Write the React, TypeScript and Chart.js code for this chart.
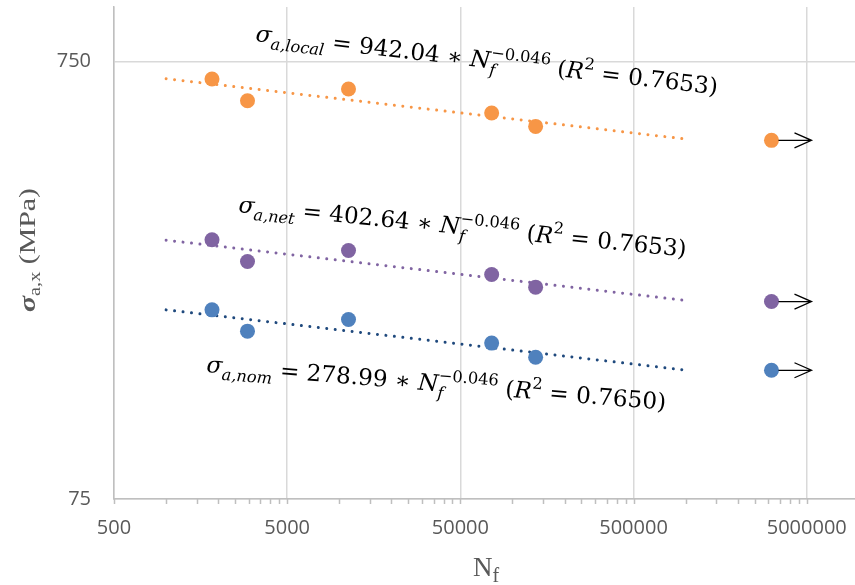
import React, { useEffect, useRef } from 'react';
import { Chart, registerables } from 'chart.js';
Chart.register(...registerables);

// ---------- data ----------
const cycles = [1840, 2950, 11300, 75800, 136000, 3130000];
const localStress = [684.6, 610.6, 649.5, 572.5, 533.3, 495.5];
const netStress = [293.6, 261.9, 277.5, 244.5, 228.8, 212.1];
const nomStress = [203.0, 181.5, 192.9, 170.4, 158.2, 147.7];
const runoutIndex = 5;

const trendCycles = [1000, 1000000];
const localTrend = [685.6, 499.0];
const netTrend = [293.0, 213.3];
const nomTrend = [203.0, 147.8];

const xTickValues = [500, 5000, 50000, 500000, 5000000];
const yTickValues = [75, 750];
const minorMultipliers = [2, 3, 4, 5, 6, 7, 8, 9];
const xRange = [500, 9.5e6];
const yRange = [75, 1000];

const seriesNames = ['local', 'net', 'nom'];
const coefficients = ['942.04', '402.64', '278.99'];
const exponents = ['−0.046', '−0.046', '−0.046'];
const rSquared = ['0.7653', '0.7653', '0.7650'];

// ---------- styles ----------
const pointColors = ['#F79646', '#8064A2', '#4F81BD'];
const trendColors = ['#F79646', '#8064A2', '#1F497D'];
const stressSeries = [localStress, netStress, nomStress];
const trendSeries = [localTrend, netTrend, nomTrend];
const eqPlacement = [
  { x: 255, y: 41, angle: 6.6, width: 465 },
  { x: 238, y: 212, angle: 5.7, width: 450 },
  { x: 206, y: 372, angle: 4.7, width: 461 },
];

type Seg = { t: string; it?: boolean; bold?: boolean; rel?: number; dy?: number; overlay?: boolean; family?: string };

function layoutRich(ctx: CanvasRenderingContext2D, segs: Seg[], size: number, family: string) {
  const items: { s: Seg; font: string; x: number; dy: number }[] = [];
  let x = 0;
  let carry = 0;
  for (const s of segs) {
    const fs = size * (s.rel ?? 1);
    const font = `${s.it ? 'italic ' : ''}${s.bold ? 'bold ' : ''}${fs}px "${s.family ?? family}"`;
    ctx.font = font;
    const w = ctx.measureText(s.t).width;
    items.push({ s, font, x, dy: (s.dy ?? 0) * size });
    if (s.overlay) {
      carry = w;
    } else {
      x += Math.max(w, carry);
      carry = 0;
    }
  }
  return { items, width: x };
}

function drawRich(
  ctx: CanvasRenderingContext2D,
  segs: Seg[],
  size: number,
  family: string,
  ax: number,
  ay: number,
  angleDeg: number,
  targetW: number | null,
  color: string
) {
  ctx.save();
  const L = layoutRich(ctx, segs, size, family);
  ctx.translate(ax, ay);
  ctx.rotate((angleDeg * Math.PI) / 180);
  const k = targetW ? targetW / L.width : 1;
  ctx.scale(k, 1);
  ctx.fillStyle = color;
  ctx.textBaseline = 'alphabetic';
  ctx.textAlign = 'left';
  for (const it of L.items) {
    ctx.font = it.font;
    ctx.fillText(it.s.t, it.x, it.dy);
  }
  ctx.restore();
}

function equationSegs(name: string, coef: string, exp: string, r2: string): Seg[] {
  return [
    { t: 'σ', it: true },
    { t: `a,${name}`, it: true, rel: 0.7, dy: 0.28 },
    { t: ` = ${coef} ∗ ` },
    { t: 'N', it: true },
    { t: 'f', it: true, rel: 0.7, dy: 0.3, overlay: true },
    { t: exp, rel: 0.7, dy: -0.45 },
    { t: ' (' },
    { t: 'R', it: true },
    { t: '2', rel: 0.7, dy: -0.45 },
    { t: ` = ${r2})` },
  ];
}

const annotationPlugin = {
  id: 'annotations',
  afterDraw(chart: any) {
    const ctx: CanvasRenderingContext2D = chart.ctx;
    const xs = chart.scales.x;
    const ys = chart.scales.y;
    const area = chart.chartArea;

    // minor + major tick marks below the x axis
    ctx.save();
    ctx.strokeStyle = '#BFBFBF';
    ctx.lineWidth = 1.5;
    ctx.beginPath();
    for (const major of xTickValues) {
      const vals = [major, ...minorMultipliers.map((m) => major * m)];
      for (const v of vals) {
        if (v > xRange[1]) continue;
        const px = Math.round(xs.getPixelForValue(v)) + 0.5;
        ctx.moveTo(px, area.bottom);
        ctx.lineTo(px, area.bottom + 5);
      }
    }
    ctx.stroke();
    ctx.restore();

    // run-out arrows
    ctx.save();
    ctx.strokeStyle = '#000000';
    ctx.lineWidth = 1.3;
    for (const s of stressSeries) {
      const px = xs.getPixelForValue(cycles[runoutIndex]);
      const py = ys.getPixelForValue(s[runoutIndex]);
      const x0 = px + 7;
      const x1 = px + 40;
      ctx.beginPath();
      ctx.moveTo(x0, py);
      ctx.lineTo(x1, py);
      ctx.moveTo(x1 - 17, py - 7.5);
      ctx.lineTo(x1, py);
      ctx.lineTo(x1 - 17, py + 7.5);
      ctx.stroke();
    }
    ctx.restore();

    // equations
    for (let i = 0; i < 3; i++) {
      const p = eqPlacement[i];
      drawRich(
        ctx,
        equationSegs(seriesNames[i], coefficients[i], exponents[i], rSquared[i]),
        23,
        'DejaVu Serif',
        p.x,
        p.y,
        p.angle,
        p.width,
        '#000000'
      );
    }

    // y-axis title
    drawRich(
      ctx,
      [
        { t: 'σ', it: true, bold: true },
        { t: 'a,x', rel: 0.68, dy: 0.22 },
        { t: ' (MPa)' },
      ],
      24,
      'Liberation Serif',
      35,
      312,
      -90,
      124,
      '#595959'
    );

    // x-axis title
    drawRich(
      ctx,
      [
        { t: 'N' },
        { t: 'f', rel: 0.74, dy: 0.22 },
      ],
      27,
      'Liberation Serif',
      473,
      576,
      0,
      null,
      '#595959'
    );
  },
};

export default function App() {
  const ref = useRef<HTMLCanvasElement | null>(null);

  useEffect(() => {
    if (!ref.current) return;
    const datasets: any[] = [];
    for (let i = 0; i < 3; i++) {
      datasets.push({
        label: `trend-${seriesNames[i]}`,
        data: trendCycles.map((c, j) => ({ x: c, y: trendSeries[i][j] })),
        showLine: true,
        borderColor: trendColors[i],
        borderWidth: 3,
        borderDash: [0.01, 8.5],
        borderCapStyle: 'round',
        pointRadius: 0,
        pointHoverRadius: 0,
        fill: false,
        order: 2,
      });
    }
    for (let i = 0; i < 3; i++) {
      datasets.push({
        label: seriesNames[i],
        data: cycles.map((c, j) => ({ x: c, y: stressSeries[i][j] })),
        showLine: false,
        backgroundColor: pointColors[i],
        borderColor: pointColors[i],
        pointBorderWidth: 0,
        pointRadius: 7.5,
        pointHoverRadius: 7.5,
        order: 1,
      });
    }

    const tickFont = { family: '"Open Sans"', size: 20 };
    const zeroPad = (s: any) => {
      s.paddingTop = 0;
      s.paddingBottom = 0;
      s.paddingLeft = 0;
      s.paddingRight = 0;
    };

    const chart = new Chart(ref.current, {
      type: 'scatter',
      data: { datasets },
      options: {
        responsive: false,
        animation: false,
        devicePixelRatio: 1,
        layout: { autoPadding: false, padding: { top: 7, right: 0, left: 0, bottom: 0 } },
        plugins: { legend: { display: false }, tooltip: { enabled: false } },
        scales: {
          x: {
            type: 'logarithmic',
            min: xRange[0],
            max: xRange[1],
            afterBuildTicks: (s: any) => {
              s.ticks = xTickValues.map((v) => ({ value: v }));
            },
            afterFit: (s: any) => {
              s.height = 86;
              zeroPad(s);
            },
            ticks: {
              callback: (v: any) => String(v),
              font: tickFont,
              color: '#595959',
              padding: 17,
              autoSkip: false,
              maxRotation: 0,
              minRotation: 0,
            },
            grid: { color: '#D9D9D9', lineWidth: 1.5, drawTicks: false },
            border: { color: '#BFBFBF', width: 1.5 },
          },
          y: {
            type: 'logarithmic',
            min: yRange[0],
            max: yRange[1],
            afterBuildTicks: (s: any) => {
              s.ticks = yTickValues.map((v) => ({ value: v }));
            },
            afterFit: (s: any) => {
              s.width = 114;
              zeroPad(s);
            },
            ticks: {
              callback: (v: any) => String(v),
              font: tickFont,
              color: '#595959',
              padding: 23,
              autoSkip: false,
            },
            grid: { color: '#D9D9D9', lineWidth: 1.5, drawTicks: false },
            border: { color: '#BFBFBF', width: 1.5 },
          },
        },
      } as any,
      plugins: [annotationPlugin],
    });
    return () => chart.destroy();
  }, []);

  return (
    <div style={{ position: 'fixed', left: 0, top: 0, width: 855, height: 585, background: '#ffffff' }}>
      <canvas ref={ref} width={855} height={585} style={{ display: 'block' }} />
    </div>
  );
}
